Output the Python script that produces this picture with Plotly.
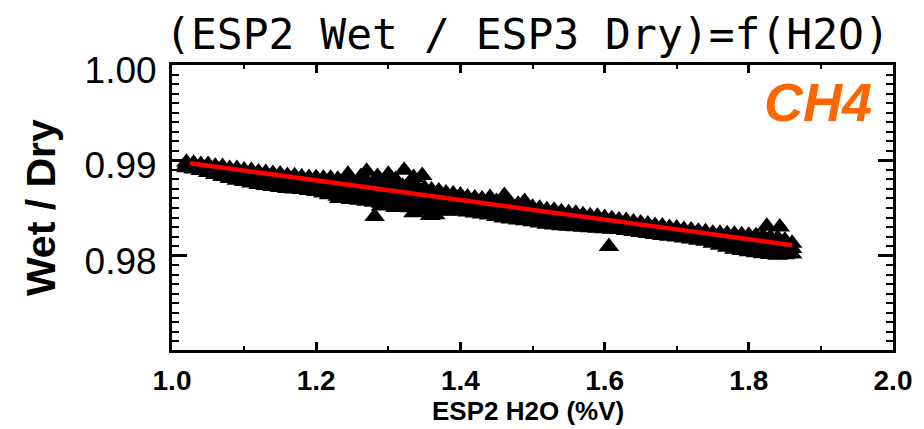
import plotly.graph_objects as go

# ---- data ----
x_band = [1.02, 1.03, 1.04, 1.05, 1.06, 1.07, 1.08, 1.09, 1.10, 1.11, 1.12, 1.13, 1.14, 1.15,
          1.16, 1.17, 1.18, 1.19, 1.20, 1.21, 1.22, 1.23, 1.24, 1.25, 1.26, 1.27, 1.28, 1.29,
          1.30, 1.31, 1.32, 1.33, 1.34, 1.35, 1.36, 1.37, 1.38, 1.39, 1.40, 1.41, 1.42, 1.43,
          1.44, 1.45, 1.46, 1.47, 1.48, 1.49, 1.50, 1.51, 1.52, 1.53, 1.54, 1.55, 1.56, 1.57,
          1.58, 1.59, 1.60, 1.61, 1.62, 1.63, 1.64, 1.65, 1.66, 1.67, 1.68, 1.69, 1.70, 1.71,
          1.72, 1.73, 1.74, 1.75, 1.76, 1.77, 1.78, 1.79, 1.80, 1.81, 1.82, 1.83, 1.84, 1.85, 1.86]
y_upper = [0.98980, 0.98970, 0.98955, 0.98955, 0.98939, 0.98935, 0.98913, 0.98914, 0.98898, 0.98893,
           0.98877, 0.98873, 0.98862, 0.98857, 0.98842, 0.98837, 0.98826, 0.98821, 0.98816, 0.98811,
           0.98811, 0.98801, 0.98802, 0.98791, 0.98781, 0.98781, 0.98760, 0.98760, 0.98750, 0.98750,
           0.98729, 0.98730, 0.98720, 0.98709, 0.98688, 0.98678, 0.98657, 0.98647, 0.98637, 0.98615,
           0.98605, 0.98595, 0.98585, 0.98569, 0.98564, 0.98544, 0.98538, 0.98523, 0.98507, 0.98496,
           0.98481, 0.98476, 0.98461, 0.98450, 0.98445, 0.98430, 0.98419, 0.98414, 0.98399, 0.98388,
           0.98373, 0.98368, 0.98353, 0.98342, 0.98332, 0.98317, 0.98311, 0.98296, 0.98291, 0.98275,
           0.98270, 0.98255, 0.98250, 0.98234, 0.98234, 0.98229, 0.98224, 0.98219, 0.98214, 0.98208,
           0.98204, 0.98194, 0.98184, 0.98162, 0.98131]
y_middle = [0.98952, 0.98939, 0.98924, 0.98913, 0.98895, 0.98882, 0.98861, 0.98853, 0.98838, 0.98827,
            0.98812, 0.98805, 0.98794, 0.98786, 0.98774, 0.98769, 0.98761, 0.98753, 0.98745, 0.98735,
            0.98727, 0.98712, 0.98702, 0.98691, 0.98681, 0.98676, 0.98660, 0.98655, 0.98645, 0.98640,
            0.98624, 0.98617, 0.98604, 0.98594, 0.98578, 0.98573, 0.98563, 0.98558, 0.98553, 0.98537,
            0.98527, 0.98516, 0.98506, 0.98490, 0.98480, 0.98465, 0.98457, 0.98444, 0.98431, 0.98419,
            0.98405, 0.98399, 0.98388, 0.98379, 0.98374, 0.98364, 0.98356, 0.98351, 0.98341, 0.98333,
            0.98323, 0.98316, 0.98303, 0.98292, 0.98282, 0.98269, 0.98261, 0.98250, 0.98244, 0.98230,
            0.98223, 0.98209, 0.98200, 0.98182, 0.98171, 0.98158, 0.98145, 0.98136, 0.98128, 0.98119,
            0.98112, 0.98103, 0.98095, 0.98086, 0.98074]
y_lower = [0.98923, 0.98908, 0.98892, 0.98871, 0.98850, 0.98829, 0.98808, 0.98792, 0.98777, 0.98761,
           0.98746, 0.98736, 0.98726, 0.98715, 0.98705, 0.98700, 0.98695, 0.98684, 0.98674, 0.98658,
           0.98643, 0.98622, 0.98602, 0.98591, 0.98581, 0.98570, 0.98560, 0.98550, 0.98540, 0.98529,
           0.98519, 0.98503, 0.98488, 0.98478, 0.98468, 0.98468, 0.98468, 0.98468, 0.98468, 0.98458,
           0.98448, 0.98437, 0.98427, 0.98411, 0.98396, 0.98385, 0.98375, 0.98365, 0.98355, 0.98342,
           0.98329, 0.98321, 0.98314, 0.98308, 0.98303, 0.98298, 0.98293, 0.98288, 0.98283, 0.98278,
           0.98273, 0.98263, 0.98253, 0.98242, 0.98232, 0.98221, 0.98211, 0.98203, 0.98196, 0.98185,
           0.98175, 0.98162, 0.98150, 0.98129, 0.98108, 0.98087, 0.98066, 0.98053, 0.98041, 0.98030,
           0.98020, 0.98012, 0.98005, 0.98010, 0.98016]

# thicker cluster between 1.22 and 1.36
x_cluster = [1.22, 1.23, 1.24, 1.25, 1.26, 1.27, 1.28, 1.29, 1.30, 1.31, 1.32, 1.33, 1.34, 1.35, 1.36,
             1.22, 1.23, 1.24, 1.25, 1.26, 1.27, 1.28, 1.29, 1.30, 1.31, 1.32, 1.33, 1.34, 1.35, 1.36]
y_cluster = [0.98769, 0.98757, 0.98752, 0.98741, 0.98731, 0.98729, 0.98710, 0.98708, 0.98698, 0.98695,
             0.98677, 0.98674, 0.98662, 0.98652, 0.98633,
             0.98685, 0.98667, 0.98652, 0.98641, 0.98631, 0.98623, 0.98610, 0.98603, 0.98593, 0.98585,
             0.98572, 0.98560, 0.98546, 0.98536, 0.98523]

x_outlier = [1.244, 1.262, 1.270, 1.285, 1.300, 1.310, 1.322, 1.335, 1.347, 1.441, 1.461, 1.489,
             1.825, 1.843, 1.281, 1.358, 1.335, 1.365, 1.218, 1.232, 1.248, 1.290, 1.310, 1.606]
y_outlier = [0.98853, 0.98830, 0.98884, 0.98830, 0.98853, 0.98800, 0.98895, 0.98820, 0.98842, 0.98611,
             0.98632, 0.98568, 0.98309, 0.98301, 0.98411, 0.98421, 0.98450, 0.98430, 0.98640, 0.98600,
             0.98590, 0.98520, 0.98505, 0.98095]

fit_x = [1.025, 1.860]
fit_y = [0.98970, 0.98110]

x_range = [1.0, 2.0]
y_range = [0.9701, 1.0]
x_major, x_minor = 0.2, 0.1
y_major, y_minor = 0.01, 0.001

title_text = "(ESP2 Wet / ESP3 Dry)=f(H2O)"
x_title = "ESP2 H2O (%V)"
y_title = "Wet / Dry"
species = "CH4"

# ---- figure ----
fig = go.Figure()
marker = dict(symbol="triangle-up", size=18, color="black", line=dict(width=0))
for xs, ys in [(x_band, y_upper), (x_band, y_middle), (x_band, y_lower),
               (x_cluster, y_cluster), (x_outlier, y_outlier)]:
    fig.add_trace(go.Scatter(x=xs, y=ys, mode="markers", marker=marker,
                             showlegend=False, hoverinfo="skip"))
fig.add_trace(go.Scatter(x=fit_x, y=fit_y, mode="lines",
                         line=dict(color="#ff0000", width=4.5), showlegend=False))

L, R, T, B = 172, 25, 65, 79
PW, PH = 924 - L - R, 429 - T - B

fig.update_layout(
    width=924, height=429,
    margin=dict(l=L, r=R, t=T, b=B),
    paper_bgcolor="white", plot_bgcolor="white",
    showlegend=False,
)
fig.update_xaxes(
    range=x_range, tickmode="linear", tick0=1.0, dtick=x_major, tickformat=".1f",
    showgrid=False, zeroline=False,
    showline=True, linewidth=3, linecolor="black", mirror="ticks",
    ticks="inside", ticklen=8, tickwidth=2.5, tickcolor="black",
    minor=dict(tick0=1.0, dtick=x_minor, ticks="inside", ticklen=4, tickwidth=2,
               tickcolor="black", showgrid=False),
    tickfont=dict(family="Liberation Sans", size=28, color="black", weight="bold"),
    ticklabelstandoff=3,
)
fig.update_yaxes(
    range=y_range, tickmode="linear", tick0=0.97, dtick=y_major, tickformat=".2f",
    showgrid=False, zeroline=False,
    showline=True, linewidth=3, linecolor="black", mirror="ticks",
    ticks="inside", ticklen=15, tickwidth=2.5, tickcolor="black",
    minor=dict(tick0=0.97, dtick=y_minor, ticks="inside", ticklen=7, tickwidth=2,
               tickcolor="black", showgrid=False),
    tickfont=dict(family="Liberation Sans", size=37, color="black"),
    ticklabelstandoff=5, ticklabelshift=5,
)

fig.add_annotation(text=title_text, xref="paper", yref="paper",
                   x=(530 - L) / PW, y=1.0, xanchor="center", yanchor="bottom", yshift=4,
                   showarrow=False,
                   font=dict(family="DejaVu Sans Mono", size=43, color="black"))
fig.add_annotation(text=x_title, xref="paper", yref="paper",
                   x=(531 - L) / PW, y=0.0, xanchor="center", yanchor="middle", yshift=-61,
                   showarrow=False,
                   font=dict(family="Liberation Sans", size=26, color="black", weight="bold"))
fig.add_annotation(text=y_title, xref="paper", yref="paper",
                   x=(40 - L) / PW, y=(429 - B - 208) / PH, xanchor="center", yanchor="middle",
                   textangle=-90, showarrow=False,
                   font=dict(family="Liberation Sans", size=41, color="black", weight="bold"))
fig.add_annotation(text=species, xref="paper", yref="paper",
                   x=(823 - L) / PW, y=(429 - B - 102) / PH, xanchor="center", yanchor="middle",
                   showarrow=False,
                   font=dict(family="Liberation Sans", size=54, color="#ff6600",
                             weight="bold", style="italic"))

fig.write_html("out.html")
